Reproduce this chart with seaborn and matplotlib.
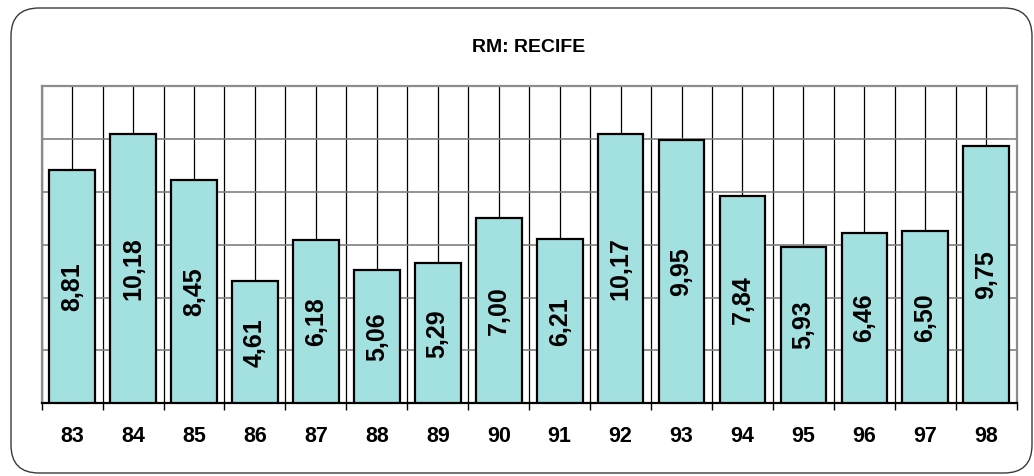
import matplotlib
matplotlib.use("Agg")
import matplotlib.pyplot as plt
import seaborn as sns
import numpy as np
import pandas as pd
from matplotlib.patches import FancyBboxPatch
from matplotlib.ticker import MultipleLocator

years = ["83", "84", "85", "86", "87", "88", "89", "90", "91", "92", "93", "94", "95", "96", "97", "98"]
values = [8.81, 10.18, 8.45, 4.61, 6.18, 5.06, 5.29, 7.00, 6.21, 10.17, 9.95, 7.84, 5.93, 6.46, 6.50, 9.75]
title = "RM: RECIFE"

sns.set_theme(style="white")
plt.rcParams['font.family'] = ['Liberation Sans', 'DejaVu Sans']

fig = plt.figure(figsize=(10.34, 4.76), dpi=100)
ax = fig.add_axes([0.0403, 0.1527, 0.9430, 0.6666])

df = pd.DataFrame({"year": years, "value": values})

# vertical grid lines at every half category (drawn behind bars)
for xv in np.arange(-0.5, len(years), 0.5):
    ax.axvline(xv, color="black", lw=0.9, zorder=0)
ax.set_axisbelow(True)
ax.yaxis.set_major_locator(MultipleLocator(2))
ax.grid(axis="y", color="#808080", lw=1.2, zorder=0)

sns.barplot(data=df, x="year", y="value", color="#a3e0e0", edgecolor="black",
            linewidth=1.6, width=0.75, saturation=1, ax=ax, zorder=3)

ax.set_ylim(0, 12)
ax.set_xlim(-0.5, len(years) - 0.5)
ax.set_xlabel("")
ax.set_ylabel("")
ax.set_yticklabels([])
ax.tick_params(axis="y", length=0)

# labels at category centers, tick marks at boundaries
ax.tick_params(axis="x", which="major", length=0, pad=16, labelsize=15.5, labelcolor="black")
for lab in ax.get_xticklabels():
    lab.set_fontweight("bold")
ax.set_xticks(np.arange(-0.5, len(years), 1.0), minor=True)
ax.tick_params(axis="x", which="minor", length=5, width=1, color="black", direction="out", bottom=True)

for side in ["left", "top", "right"]:
    ax.spines[side].set_color("#8c8c8c")
    ax.spines[side].set_linewidth(1.6)
ax.spines["bottom"].set_color("black")
ax.spines["bottom"].set_linewidth(1.6)

labels = [f"{v:.2f}".replace(".", ",") for v in values]
ax.bar_label(ax.containers[0], labels=labels, label_type="center", rotation=90,
             fontsize=18, fontweight="bold", color="black", zorder=5)

fig.text(0.5116, 1 - 48 / 476, title, ha="center", va="center",
         fontsize=14, fontweight="bold", color="black")

border = FancyBboxPatch((11, 3), 1021, 465, boxstyle="round,pad=0,rounding_size=28",
                        transform=None, fill=False, edgecolor="#3a3a3a", lw=1.0)
fig.add_artist(border)

fig.savefig("out.png", dpi=100)
